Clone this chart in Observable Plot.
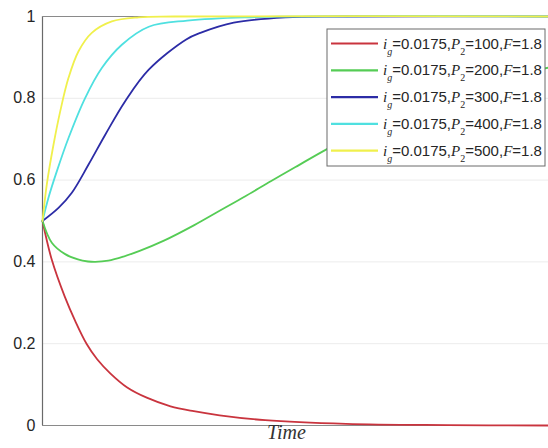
<!DOCTYPE html>
<html>
<head>
<meta charset="utf-8">
<script src="https://cdn.jsdelivr.net/npm/d3@7"></script>
<script src="https://cdn.jsdelivr.net/npm/@observablehq/plot@0.6"></script>
<style>
  html, body { margin: 0; padding: 0; background: #fff; }
  #chart svg { display: block; }
</style>
</head>
<body>
<div id="chart"></div>
<script>
// ---- data (t in arbitrary time units) ----
const redT = [0, 0.92, 2.2, 3.26, 4.35, 5.4, 6.72, 8.37, 10.3, 12.65, 14.95, 17.5, 22, 30, 40, 50];
const redY = [0.5, 0.405, 0.315, 0.254, 0.2, 0.162, 0.127, 0.093, 0.068, 0.047, 0.035, 0.025, 0.013, 0.004, 0.001, 0];

const greenT = [0, 0.92, 2.24, 3.5, 4.5, 5.2, 6.5, 8, 9.6, 12, 15, 17.5, 20, 22.6, 25, 28.2, 32, 36, 40, 45, 50];
const greenY = [0.5, 0.447, 0.419, 0.406, 0.401, 0.4, 0.403, 0.413, 0.427, 0.452, 0.49, 0.525, 0.56, 0.598, 0.632, 0.677, 0.725, 0.77, 0.81, 0.848, 0.875];

const blueT = [0, 1.58, 2.9, 4.55, 6.2, 8.17, 10.5, 14.2, 15.6, 18.9, 24, 30, 50];
const blueY = [0.5, 0.532, 0.569, 0.638, 0.711, 0.793, 0.87, 0.944, 0.96, 0.985, 0.998, 1, 1];

const cyanT = [0, 0.59, 1.42, 2.57, 4.2, 5.86, 7.84, 10.5, 14.3, 20, 50];
const cyanY = [0.5, 0.557, 0.622, 0.703, 0.8, 0.874, 0.931, 0.975, 0.99, 0.998, 1];

const yellowT = [0, 0.43, 1.09, 1.75, 2.57, 3.56, 4.87, 6.85, 9.5, 13, 50];
const yellowY = [0.5, 0.59, 0.687, 0.768, 0.85, 0.915, 0.96, 0.988, 0.998, 1, 1];

const seriesNames = ["P2=100", "P2=200", "P2=300", "P2=400", "P2=500"];
const p2Values = ["100", "200", "300", "400", "500"];
const colors = ["#c9343e", "#55cc55", "#2c2ca6", "#4fe0e0", "#f0f04c"];
const yTicks = [0, 0.2, 0.4, 0.6, 0.8, 1];

const seriesT = [redT, greenT, blueT, cyanT, yellowT];
const seriesY = [redY, greenY, blueY, cyanY, yellowY];

const rows = [];
seriesNames.forEach((name, i) => {
  seriesT[i].forEach((t, j) => rows.push({ series: name, t, v: seriesY[i][j] }));
});

const plot = Plot.plot({
  width: 548,
  height: 448,
  marginLeft: 42,
  marginRight: 0,
  marginTop: 16,
  marginBottom: 23,
  style: { fontFamily: "'Liberation Sans', Arial, sans-serif", fontSize: "16px", color: "#262626", background: "#fff" },
  x: { domain: [0, 50], axis: null },
  y: { domain: [0, 1], ticks: yTicks, tickFormat: d => String(d) },
  color: { domain: seriesNames, range: colors },
  marks: [
    Plot.gridY(yTicks, { stroke: "#000", strokeOpacity: 0.08 }),
    Plot.axisY(yTicks, { tickSize: 0, tickPadding: 7, tickFormat: d => String(d), label: null, fontSize: 16 }),
    Plot.ruleX([0], { stroke: "#6a6a6a", strokeWidth: 1.2 }),
    Plot.ruleY([0, 1], { stroke: "#8a8a8a", strokeWidth: 1.2 }),
    Plot.line(rows, { x: "t", y: "v", z: "series", stroke: "series", strokeWidth: 1.8, curve: "catmull-rom" }),
    Plot.text(["Time"], { frameAnchor: "bottom", dx: -9, dy: 13, fontFamily: "'Liberation Serif', 'Times New Roman', serif", fontStyle: "italic", fontSize: 20, fill: "#333" })
  ]
});

document.getElementById("chart").appendChild(plot);

// ---- legend (MATLAB style box, top right) ----
const svg = d3.select(plot);
const lg = svg.append("g").attr("transform", "translate(327,29)").attr("text-anchor", "start");
lg.append("rect").attr("x", 0).attr("y", 0).attr("width", 218).attr("height", 137)
  .attr("fill", "#fff").attr("stroke", "#6a6a6a").attr("stroke-width", 1);
p2Values.forEach((p, i) => {
  const cy = 14.5 + i * 26.8;
  lg.append("line").attr("x1", 4).attr("x2", 51).attr("y1", cy).attr("y2", cy)
    .attr("stroke", colors[i]).attr("stroke-width", 2.2);
  const tx = lg.append("text").attr("x", 56).attr("y", cy + 5).attr("text-anchor", "start")
    .attr("font-family", "'Liberation Sans', Arial, sans-serif").attr("font-size", 15).attr("fill", "#262626");
  tx.append("tspan").attr("font-family", "'Liberation Serif', serif").attr("font-style", "italic").text("i");
  tx.append("tspan").attr("font-family", "'Liberation Serif', serif").attr("font-style", "italic")
    .attr("font-size", 10).attr("dy", 6).text("g");
  tx.append("tspan").attr("dy", -6).text("=0.0175,");
  tx.append("tspan").attr("font-family", "'Liberation Serif', serif").attr("font-style", "italic").text("P");
  tx.append("tspan").attr("font-family", "'Liberation Serif', serif").attr("font-size", 10).attr("dy", 6).text("2");
  tx.append("tspan").attr("dy", -6).text("=" + p + ",");
  tx.append("tspan").attr("font-family", "'Liberation Serif', serif").attr("font-style", "italic").text("F");
  tx.append("tspan").text("=1.8");
});
</script>
</body>
</html>
